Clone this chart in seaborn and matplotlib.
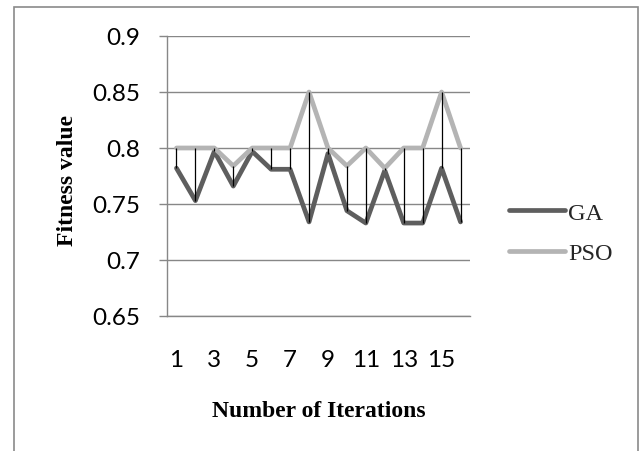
#!/usr/bin/env python3

import pandas as pd
import seaborn as sns
import matplotlib.pyplot as plt
from matplotlib.patches import Rectangle

# values
iterations = list(range(1, 17))
ga = [0.782, 0.753, 0.797, 0.766, 0.797, 0.781, 0.781, 0.734,
      0.795, 0.744, 0.733, 0.780, 0.733, 0.733, 0.782, 0.734]
pso = [0.800, 0.800, 0.800, 0.784, 0.800, 0.800, 0.800, 0.850,
       0.800, 0.784, 0.800, 0.782, 0.800, 0.800, 0.850, 0.800]
y_ticks = [0.65, 0.7, 0.75, 0.8, 0.85, 0.9]
y_tick_labels = ['0.65', '0.7', '0.75', '0.8', '0.85', '0.9']
x_ticks = [1, 3, 5, 7, 9, 11, 13, 15]

df = pd.DataFrame({'Iteration': iterations * 2,
                   'Fitness': ga + pso,
                   'Algorithm': ['GA'] * len(ga) + ['PSO'] * len(pso)})

sns.set_theme(style='white')
plt.rcParams['font.family'] = ['Lato', 'DejaVu Sans']

fig = plt.figure(figsize=(6.39, 4.52), dpi=100)
ax = fig.add_axes([167 / 639, 1 - 317 / 452, 303 / 639, 280 / 452])

grid_c = '#878787'
ax.set_ylim(0.65, 0.9)
ax.set_xlim(0.5, 16.5)
ax.set_yticks(y_ticks)
ax.set_yticklabels(y_tick_labels)
ax.set_xticks(x_ticks)
ax.yaxis.grid(True, color=grid_c, lw=1.0)
ax.set_axisbelow(True)

sns.lineplot(data=df, x='Iteration', y='Fitness', hue='Algorithm',
             palette={'GA': '#5e5e5e', 'PSO': '#b4b4b4'}, lw=3.4,
             ax=ax, legend=False, solid_joinstyle='round',
             solid_capstyle='round')

# high-low lines
ax.vlines(iterations, ga, pso, colors='black', lw=0.9, zorder=5)

for side in ['top', 'right']:
    ax.spines[side].set_visible(False)
ax.spines['left'].set_color(grid_c)
ax.spines['bottom'].set_color(grid_c)
ax.spines['left'].set_linewidth(1.0)
ax.spines['bottom'].set_linewidth(1.0)

ax.tick_params(axis='y', length=6, width=1.0, color=grid_c, pad=13,
               labelsize=17.5, labelcolor='black', left=True)
ax.tick_params(axis='x', length=0, pad=24, labelsize=17.5,
               labelcolor='black')

serif = ['Liberation Serif', 'DejaVu Serif']
ax.set_xlabel('Number of Iterations', family=serif, fontweight='bold',
              fontsize=17, color='black')
ax.set_ylabel('Fitness value', family=serif, fontweight='bold',
              fontsize=17, color='black')
ax.xaxis.set_label_coords(0.5, -0.30)
ax.yaxis.set_label_coords(-0.295, 0.4875)

# legend
handles = [plt.Line2D([], [], color='#5e5e5e', lw=3.4, solid_capstyle='round'),
           plt.Line2D([], [], color='#b4b4b4', lw=3.4, solid_capstyle='round')]
fig.legend(handles, ['GA', 'PSO'], loc='center left',
           bbox_to_anchor=(509 / 639, 1 - 234 / 452), frameon=False,
           borderpad=0, borderaxespad=0, handlelength=2.3,
           handletextpad=0.12, labelspacing=0.75,
           prop={'family': serif, 'size': 17.5})

# chart area border
fig.patches.append(Rectangle((14 / 639, -0.1), (637.5 - 14) / 639,
                             1.1 - 8 / 452, transform=fig.transFigure,
                             fill=False, edgecolor='#8a8a8a', lw=1.2,
                             figure=fig))

plt.savefig('out.png', dpi=100)
